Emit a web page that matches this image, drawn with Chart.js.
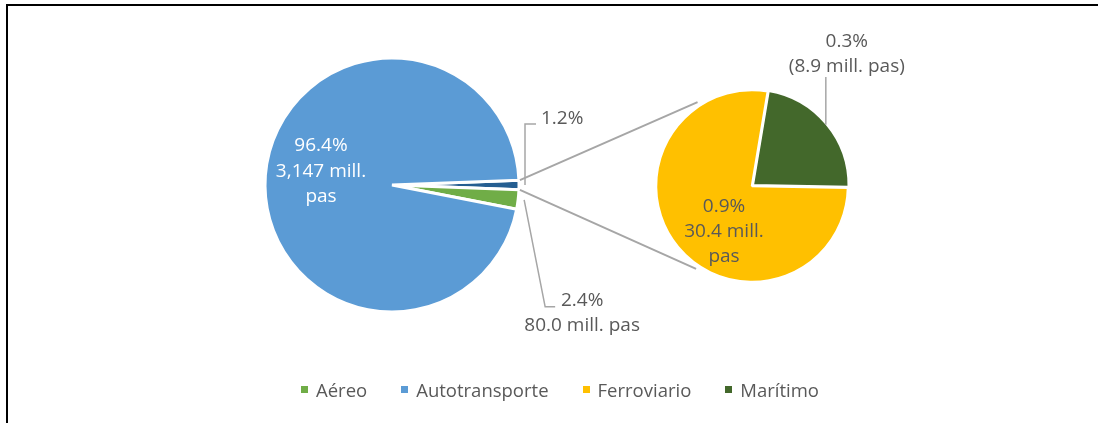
<!DOCTYPE html>
<html>
<head>
<meta charset="utf-8">
<script src="https://cdn.jsdelivr.net/npm/chart.js@4.4.1/dist/chart.umd.min.js"></script>
<style>
  html, body { margin: 0; padding: 0; background: #fff; }
  #wrap { position: relative; width: 1098px; height: 423px; overflow: hidden; font-family: "Open Sans", sans-serif; }
  #frame { position: absolute; left: 6px; top: 4px; right: -10px; bottom: -10px; border-top: 2px solid #000; border-left: 2px solid #000; }
  canvas { position: absolute; left: 0; top: 0; }
  #legend { position: absolute; left: 0; width: 1120px; top: 377px; display: flex; justify-content: center; gap: 34px; font-size: 18.5px; color: #595959; }
  .item { display: flex; align-items: center; }
  .box { width: 7px; height: 7px; margin-right: 8px; }
</style>
</head>
<body>
<div id="wrap">
  <div id="frame"></div>
  <canvas id="mainPie" width="1098" height="423"></canvas>
  <canvas id="subPie" width="1098" height="423"></canvas>
  <div id="legend"></div>
</div>
<script>
// millones de pasajeros por modo de transporte
const categories = ['Aéreo', 'Autotransporte', 'Ferroviario', 'Marítimo'];
const passengers = [80.0, 3147, 30.4, 8.9];
const colors = ['#70AD47', '#5B9BD5', '#FFC000', '#43682B'];
const otherColor = '#255E91';

// etiquetas tal como aparecen en la gráfica
const pctLabels = ['2.4%', '96.4%', '0.9%', '0.3%'];
const amountLabels = [['80.0 mill. pas'], ['3,147 mill.', 'pas'], ['30.4 mill.', 'pas'], ['(8.9 mill. pas)']];
const otherPctLabel = '1.2%';

const textColor = '#595959';
const leaderColor = '#A6A6A6';
const FONT = '19px "Open Sans"';

const total = passengers.reduce((a, b) => a + b, 0);
const otherTotal = passengers[2] + passengers[3];

function lines(ctx, arr, x, y, lh, color) {
  ctx.fillStyle = color;
  ctx.textAlign = 'center';
  ctx.textBaseline = 'middle';
  arr.forEach((t, i) => ctx.fillText(t, x, y + i * lh));
}

function leader(ctx, pts) {
  ctx.strokeStyle = leaderColor;
  ctx.lineWidth = 1.5;
  ctx.beginPath();
  pts.forEach((p, i) => i ? ctx.lineTo(p[0], p[1]) : ctx.moveTo(p[0], p[1]));
  ctx.stroke();
}

const mainLabels = {
  id: 'mainLabels',
  afterDatasetsDraw(chart) {
    const ctx = chart.ctx;
    const meta = chart.getDatasetMeta(0);
    const other = meta.data[0], air = meta.data[1], road = meta.data[2];
    ctx.save();
    ctx.font = FONT;

    // Autotransporte (dentro)
    lines(ctx, [pctLabels[1]].concat(amountLabels[1]), road.x - 71, road.y - 39, 25.5, '#fff');

    // Otros 1.2%
    const om = (other.startAngle + other.endAngle) / 2;
    const ox = other.x + (other.outerRadius + 2) * Math.cos(om);
    const oy = other.y + (other.outerRadius + 2) * Math.sin(om);
    leader(ctx, [[ox + 4, oy], [ox + 4, oy - 61], [ox + 15, oy - 61]]);
    ctx.fillStyle = textColor;
    ctx.textAlign = 'left';
    ctx.textBaseline = 'middle';
    ctx.fillText(otherPctLabel, ox + 20, oy - 66);

    // Aéreo
    const am = (air.startAngle + air.endAngle) / 2;
    const ax = air.x + (air.outerRadius + 2) * Math.cos(am);
    const ay = air.y + (air.outerRadius + 2) * Math.sin(am);
    leader(ctx, [[ax + 4, ay], [ax + 25, ay + 107], [ax + 35, ay + 107]]);
    lines(ctx, [pctLabels[0]].concat(amountLabels[0]), ax + 62, ay + 101, 25, textColor);
    ctx.restore();
  }
};

const subLabels = {
  id: 'subLabels',
  afterDatasetsDraw(chart) {
    const ctx = chart.ctx;
    const meta = chart.getDatasetMeta(0);
    const sea = meta.data[0], rail = meta.data[1];
    ctx.save();
    ctx.font = FONT;

    // líneas de conexión entre las dos gráficas
    const other = mainChart.getDatasetMeta(0).data[0];
    const r0 = other.outerRadius + 1;
    const cx = rail.x, cy = rail.y, r1 = rail.outerRadius + 4;
    const up = -123 * Math.PI / 180, down = 124 * Math.PI / 180;
    ctx.strokeStyle = leaderColor;
    ctx.lineWidth = 2;
    ctx.beginPath();
    ctx.moveTo(other.x + r0 * Math.cos(other.startAngle), other.y + r0 * Math.sin(other.startAngle));
    ctx.lineTo(cx + r1 * Math.cos(up), cy + r1 * Math.sin(up));
    ctx.moveTo(other.x + r0 * Math.cos(other.endAngle), other.y + r0 * Math.sin(other.endAngle));
    ctx.lineTo(cx + r1 * Math.cos(down), cy + r1 * Math.sin(down));
    ctx.stroke();

    // Ferroviario (dentro)
    lines(ctx, [pctLabels[2]].concat(amountLabels[2]), rail.x - 28, rail.y + 21, 25, textColor);

    // Marítimo
    const sm = (sea.startAngle + sea.endAngle) / 2;
    const sx = sea.x + sea.outerRadius * Math.cos(sm);
    const sy = sea.y + sea.outerRadius * Math.sin(sm);
    leader(ctx, [[sx, sy], [sx, 77]]);
    lines(ctx, [pctLabels[3]].concat(amountLabels[3]), sx + 21, 42, 25, textColor);
    ctx.restore();
  }
};

let mainChart;

function build() {
  mainChart = new Chart(document.getElementById('mainPie'), {
    type: 'pie',
    data: {
      labels: ['Otros', categories[0], categories[1]],
      datasets: [{
        data: [otherTotal, passengers[0], passengers[1]],
        backgroundColor: [otherColor, colors[0], colors[1]],
        borderColor: '#fff',
        borderWidth: 3
      }]
    },
    options: {
      responsive: false,
      animation: false,
      radius: 127,
      rotation: 90 - (otherTotal / total) * 180,
      layout: { padding: { right: 314, bottom: 53 } },
      plugins: { legend: { display: false }, tooltip: { enabled: false } }
    },
    plugins: [mainLabels]
  });

  new Chart(document.getElementById('subPie'), {
    type: 'pie',
    data: {
      labels: [categories[3], categories[2]],
      datasets: [{
        data: [passengers[3], passengers[2]],
        backgroundColor: [colors[3], colors[2]],
        borderColor: '#fff',
        borderWidth: 2.5,
        offset: [4, 0]
      }]
    },
    options: {
      responsive: false,
      animation: false,
      radius: 96,
      rotation: 9.5,
      layout: { padding: { left: 406, bottom: 51 } },
      plugins: { legend: { display: false }, tooltip: { enabled: false } }
    },
    plugins: [subLabels]
  });

  const legend = document.getElementById('legend');
  categories.forEach((c, i) => {
    const item = document.createElement('div');
    item.className = 'item';
    item.innerHTML = '<span class="box" style="background:' + colors[i] + '"></span><span>' + c + '</span>';
    legend.appendChild(item);
  });
}

document.fonts.load(FONT).then(build, build);
</script>
</body>
</html>
